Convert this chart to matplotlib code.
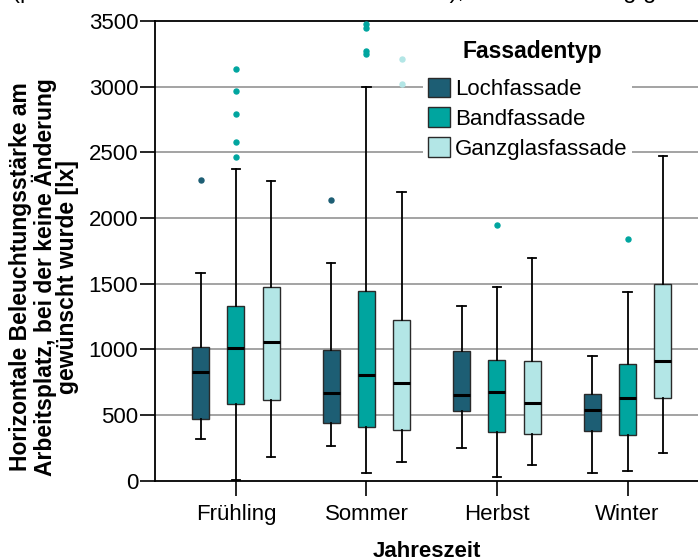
"""Boxplot: Beleuchtungsstärke am Arbeitsplatz ohne Änderungswunsch,
nach Jahreszeit und Fassadentyp (Werte aus der Vorlage abgelesen)."""
import matplotlib
matplotlib.use("Agg")
import matplotlib.pyplot as plt
from matplotlib.patches import Patch

plt.rcParams["font.family"] = ["Liberation Sans", "DejaVu Sans"]

seasons = ["Frühling", "Sommer", "Herbst", "Winter"]
facades = ["Lochfassade", "Bandfassade", "Ganzglasfassade"]
colors = ["#1d5e74", "#00a59f", "#b3e6e6"]

# per facade: one value per season (Frühling, Sommer, Herbst, Winter)
whislo = {"Lochfassade":     [317, 264, 249, 59],
          "Bandfassade":     [5, 59, 28, 71],
          "Ganzglasfassade": [180, 145, 122, 211]}
q1 = {"Lochfassade":     [470, 441, 530, 376],
      "Bandfassade":     [586, 411, 371, 348],
      "Ganzglasfassade": [616, 383, 358, 627]}
med = {"Lochfassade":     [830, 670, 650, 540],
       "Bandfassade":     [1010, 807, 675, 632],
       "Ganzglasfassade": [1053, 741, 594, 911]}
q3 = {"Lochfassade":     [1020, 995, 985, 662],
      "Bandfassade":     [1332, 1446, 916, 888],
      "Ganzglasfassade": [1476, 1225, 909, 1495]}
whishi = {"Lochfassade":     [1581, 1657, 1332, 949],
          "Bandfassade":     [2372, 2996, 1472, 1436],
          "Ganzglasfassade": [2283, 2199, 1697, 2473]}
fliers = {"Lochfassade":     [[2286], [2134], [], []],
          "Bandfassade":     [[2461, 2575, 2788, 2966, 3135],
                              [3245, 3270, 3450, 3480], [1944], [1839]],
          "Ganzglasfassade": [[], [3017, 3209], [], []]}

fig = plt.figure(figsize=(6.98, 5.59), dpi=100)
ax = fig.add_axes([0.222, 0.140, 0.778, 0.8225])

offsets = [-0.27, 0.0, 0.27]
for k, (fac, col) in enumerate(zip(facades, colors)):
    stats = []
    for i in range(len(seasons)):
        stats.append(dict(whislo=whislo[fac][i], q1=q1[fac][i], med=med[fac][i],
                          q3=q3[fac][i], whishi=whishi[fac][i],
                          fliers=fliers[fac][i]))
    pos = [i + offsets[k] for i in range(len(seasons))]
    ax.bxp(stats, positions=pos, widths=0.13, patch_artist=True,
           showfliers=True, manage_ticks=False,
           boxprops=dict(facecolor=col, edgecolor="#2a2a2a", linewidth=1.0),
           medianprops=dict(color="black", linewidth=2.2),
           whiskerprops=dict(color="black", linewidth=1.3),
           capprops=dict(color="black", linewidth=1.3),
           flierprops=dict(marker="o", markersize=3.6, markerfacecolor=col,
                           markeredgecolor=col, linestyle="none"),
           zorder=3)

ax.set_xlim(-0.62, 3.54)
ax.set_ylim(0, 3500)
ax.set_xticks(range(len(seasons)))
ax.set_xticklabels(seasons, fontsize=16)
ax.set_yticks(range(0, 3501, 500))
ax.tick_params(axis="y", labelsize=16, length=11, width=1.2, pad=1)
ax.tick_params(axis="x", length=11, width=1.2, pad=6)
for y in range(500, 3001, 500):
    ax.axhline(y, color="#8a8a8a", linewidth=1.1, zorder=1)
ax.spines["right"].set_visible(False)
for s in ("left", "bottom", "top"):
    ax.spines[s].set_linewidth(1.3)
    ax.spines[s].set_color("black")

ax.set_xlabel("Jahreszeit", fontsize=16, fontweight="bold", labelpad=11)
fig.text(44 / 698, 0.505,
         "Horizontale Beleuchtungsstärke am\n"
         "Arbeitsplatz, bei der keine Änderung\n"
         "gewünscht wurde [lx]",
         rotation=90, ha="center", va="center", multialignment="center",
         fontsize=16.5, fontweight="bold", linespacing=0.95)

# cut-off title line at the top edge (only the descenders show)
fig.text(12 / 698, 1 + 2.0 / 559,
         "(potentiell mit direkter Sonne bei Südwest), keine Änderung gewünscht",
         ha="left", va="baseline", fontsize=17)

handles = [Patch(facecolor=c, edgecolor="#2a2a2a", linewidth=1.0) for c in colors]
leg = fig.legend(handles, facades, loc="upper left",
                 bbox_to_anchor=(412 / 698, 1 - 62 / 559),
                 fontsize=16,
                 handlelength=1.0, handleheight=1.0, handletextpad=0.25,
                 labelspacing=0.33, borderpad=0.2, frameon=True,
                 facecolor="white", edgecolor="none", framealpha=1.0,
                 fancybox=False)
fig.text(532 / 698, 1 - 52 / 559, "Fassadentyp", ha="center", va="center",
         fontsize=16.5, fontweight="bold")

fig.savefig("out.png", dpi=100, facecolor="white")
